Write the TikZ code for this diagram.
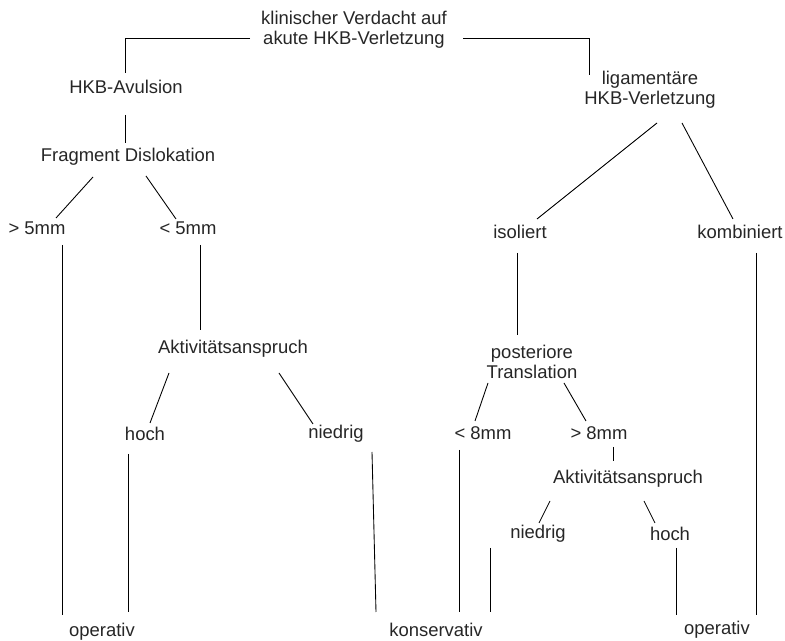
\documentclass[tikz,border=0pt]{standalone}
\usepackage{fontspec}
\setmainfont{Liberation Sans}
\usepackage{tikz}
\usetikzlibrary{calc}

\begin{document}
\begin{tikzpicture}[
    x=0.02cm, y=-0.02cm,
    lbl/.style={inner sep=0pt, align=center, text=black!85, font=\fontsize{10.5}{11.5}\selectfont},
    edge/.style={line width=0.5pt, black}
]
\useasboundingbox (0,0) rectangle (785,641);

% Wurzel
\node[lbl] (root) at (354,30) {klinischer Verdacht auf\\akute HKB-Verletzung};

% linker Ast: Avulsion
\node[lbl] (avul) at (126,87) {HKB-Avulsion};
\node[lbl] (frag) at (128,157) {Fragment Dislokation};
\node[lbl] (gt5) at (37,228) {> 5mm};
\node[lbl] (lt5) at (188,228) {< 5mm};
\node[lbl] (aktL) at (233,349) {Aktivitätsanspruch};
\node[lbl] (hochL) at (145,434) {hoch};
\node[lbl] (niedL) at (336,434) {niedrig};

% rechter Ast: ligamentaer
\node[lbl] (lig) at (650,90) {ligamentäre\\HKB-Verletzung};
\node[lbl] (iso) at (520,232) {isoliert};
\node[lbl] (komb) at (740,232) {kombiniert};
\node[lbl] (post) at (532,362) {posteriore\\Translation};
\node[lbl] (lt8) at (483,433) {< 8mm};
\node[lbl] (gt8) at (599,433) {> 8mm};
\node[lbl] (aktR) at (628,479) {Aktivitätsanspruch};
\node[lbl] (niedR) at (538,534) {niedrig};
\node[lbl] (hochR) at (670,534) {hoch};

% Therapie
\node[lbl] (opL) at (102,632) {operativ};
\node[lbl] (kons) at (436,630) {konservativ};
\node[lbl] (opR) at (717,630) {operativ};

% Verbindungen
\draw[edge] ($(root)+(-104,8)$) -| ($(avul)+(-1,-14)$);
\draw[edge] ($(root)+(109,8)$) -| ($(lig)+(-61,-15)$);

\draw[edge] ($(avul)+(-1,28)$) -- ($(frag)+(-3,-14)$);
\draw[edge] ($(frag)+(-35,20)$) -- ($(gt5)+(19,-10)$);
\draw[edge] ($(frag)+(18,19)$) -- ($(lt5)+(-12,-9)$);
\draw[edge] ($(gt5)+(25,17)$) -- ($(opL)+(-40,-17)$);
\draw[edge] ($(lt5)+(12,17)$) -- ($(aktL)+(-33,-19)$);
\draw[edge] ($(aktL)+(-64,24)$) -- ($(hochL)+(5,-11)$);
\draw[edge] ($(aktL)+(46,24)$) -- ($(niedL)+(-23,-10)$);
\draw[edge] ($(hochL)+(-17,20)$) -- ($(opL)+(26,-20)$);
\draw[edge] ($(niedL)+(36,18)$) -- ($(kons)+(-60,-18)$);

\draw[edge] ($(lig)+(7,33)$) -- ($(iso)+(17,-13)$);
\draw[edge] ($(lig)+(32,33)$) -- ($(komb)+(-7,-13)$);
\draw[edge] ($(iso)+(-3,21)$) -- ($(post)+(-15,-27)$);
\draw[edge] ($(komb)+(16,21)$) -- ($(opR)+(39,-15)$);
\draw[edge] ($(post)+(-44,21)$) -- ($(lt8)+(-8,-12)$);
\draw[edge] ($(post)+(32,21)$) -- ($(gt8)+(-13,-12)$);
\draw[edge] ($(lt8)+(-24,17)$) -- ($(kons)+(23,-18)$);
\draw[edge] ($(gt8)+(14,14)$) -- ($(aktR)+(-15,-18)$);
\draw[edge] ($(aktR)+(-78,22)$) -- ($(niedR)+(1,-11)$);
\draw[edge] ($(aktR)+(16,22)$) -- ($(hochR)+(-15,-11)$);
\draw[edge] ($(niedR)+(-48,14)$) -- ($(kons)+(54,-18)$);
\draw[edge] ($(hochR)+(6,14)$) -- ($(opR)+(-41,-15)$);
\end{tikzpicture}
\end{document}
